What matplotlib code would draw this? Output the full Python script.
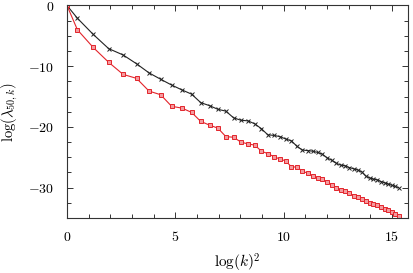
import numpy as np
import matplotlib
matplotlib.use("Agg")
import matplotlib.pyplot as plt
from matplotlib.ticker import MultipleLocator, FuncFormatter

plt.rcParams['mathtext.fontset'] = 'cm'
plt.rcParams['font.family'] = ['DejaVu Serif']

k = np.arange(1, 51)
x_vals = np.log(k) ** 2

black_vals = [0, -2.1, -4.75, -7.1, -8.15, -9.6, -11.1, -12.15, -13.1, -13.9,
              -14.6, -16.0, -16.5, -17.1, -17.4, -18.5, -18.9, -19.0, -19.5, -20.3,
              -21.3, -21.4, -21.6, -22.0, -22.3, -23.2, -23.8, -23.9, -24.0, -24.2,
              -24.5, -25.1, -25.5, -26.0, -26.3, -26.4, -26.7, -26.9, -27.1, -27.4,
              -28.1, -28.4, -28.6, -28.7, -29.0, -29.2, -29.4, -29.6, -29.8, -30.0]

red_vals = [0, -4.0, -6.9, -9.35, -11.35, -12.0, -14.1, -14.7, -16.6, -16.9,
            -17.6, -19.1, -19.7, -20.2, -21.6, -21.7, -22.5, -22.8, -23.0, -24.0,
            -24.4, -24.9, -25.3, -25.6, -26.6, -26.6, -27.3, -27.6, -28.1, -28.4,
            -28.6, -29.1, -29.5, -30.1, -30.4, -30.6, -30.9, -31.3, -31.6, -31.9,
            -32.2, -32.5, -32.7, -32.9, -33.2, -33.5, -33.7, -34.0, -34.3, -34.6]

fig = plt.figure(figsize=(4.13, 2.73), dpi=100)
ax = fig.add_axes([0.1622, 0.2015, 0.8257, 0.7784])

ax.plot(x_vals, black_vals, color='#222222', lw=0.8, marker='x', ms=3.5, mew=0.7)
ax.plot(x_vals, red_vals, color='#e3242b', lw=0.8, marker='s', ms=3.2, mew=0.7,
        mfc='#f49a9e', mec='#e3242b')

ax.set_xlim(0, 15.74)
ax.set_ylim(-35, 0)

ax.xaxis.set_major_locator(MultipleLocator(5))
ax.xaxis.set_minor_locator(MultipleLocator(1))
ax.yaxis.set_major_locator(MultipleLocator(10))
ax.yaxis.set_minor_locator(MultipleLocator(2.5))

fmt = FuncFormatter(lambda v, p: r'$%d$' % int(round(v)))
ax.xaxis.set_major_formatter(fmt)
ax.yaxis.set_major_formatter(fmt)

ax.tick_params(which='both', direction='in', top=True, right=True, width=0.7,
               color='#333333', labelsize=10)
ax.tick_params(which='major', length=4)
ax.tick_params(which='minor', length=3)
ax.tick_params(axis='x', which='major', pad=9)
ax.tick_params(axis='y', which='major', pad=9)

for s in ax.spines.values():
    s.set_linewidth(0.8)
    s.set_color('#333333')

ax.set_xlabel(r'$\log(k)^2$', fontsize=11, va='center')
ax.set_ylabel(r'$\log(\lambda_{50,k})$', fontsize=10.5, va='center')
ax.xaxis.set_label_coords(0.5, -0.212)
ax.yaxis.set_label_coords(-0.166, 0.5)

fig.savefig('out.png', dpi=100)
